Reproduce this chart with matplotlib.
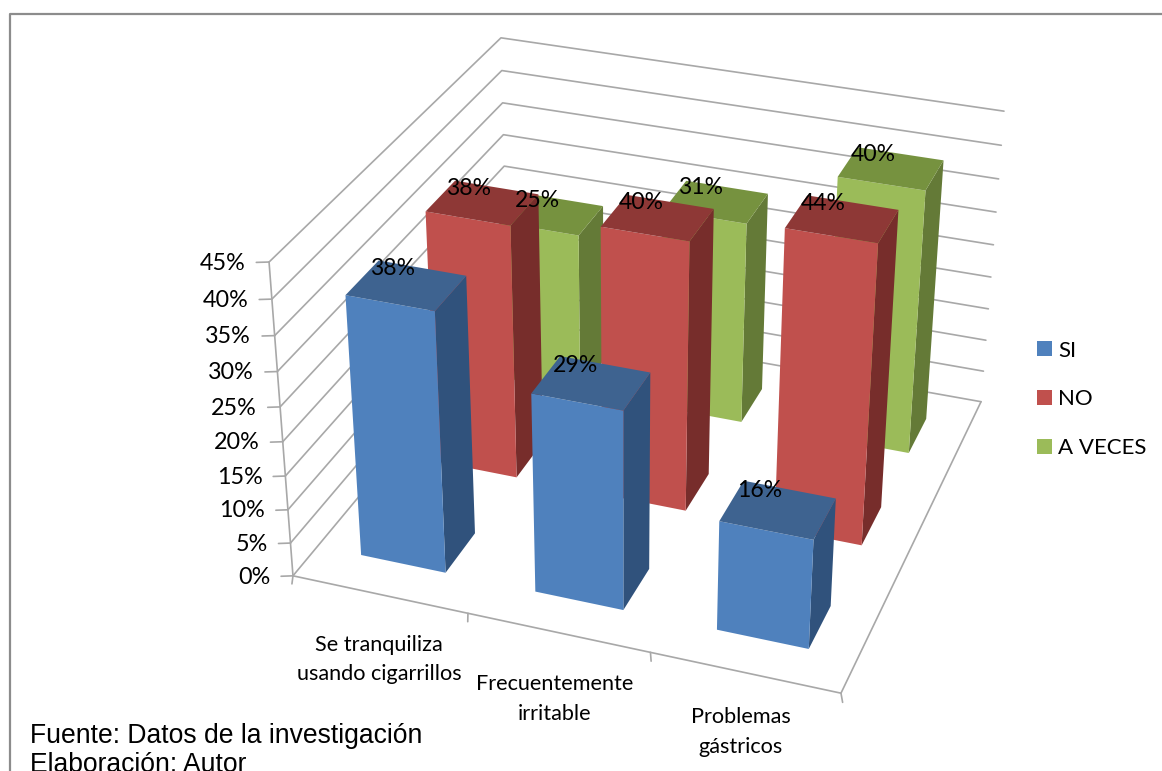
import numpy as np
import matplotlib
matplotlib.use("Agg")
import matplotlib.pyplot as plt
from matplotlib.lines import Line2D
from matplotlib.patches import Patch
from mpl_toolkits.mplot3d import proj3d

# ---- data ----
categories = ["Se tranquiliza\nusando cigarrillos", "Frecuentemente\nirritable", "Problemas\ngástricos"]
series_names = ["SI", "NO", "A VECES"]
si_values = [38, 29, 16]
no_values = [38, 40, 44]
aveces_values = [25, 31, 40]
z_ticks = [0, 5, 10, 15, 20, 25, 30, 35, 40, 45]
footer_lines = ["Fuente: Datos de la investigación", "Elaboración: Autor"]

W, H = 1162, 771
series_values = [si_values, no_values, aveces_values]
front_colors = ["#4F81BD", "#C0504D", "#9BBB59"]
top_colors = ["#3E6390", "#8E3836", "#76923F"]
side_colors = ["#30527C", "#772D2B", "#647A37"]
LATO = "Lato"
ARIAL = "Liberation Sans"
GRID = "#A8A8A8"

# ---- camera: perspective matrix fitted to the box corners of the picture ----
world = np.array([[0, 0, 0], [3, 0, 0], [3, 3, 0], [0, 3, 0],
                  [0, 0, 45], [3, 3, 45], [0, 3, 45]], float)
screen = np.array([[293, 576], [841, 693], [981, 402], [508, 317],
                   [269, 262], [1004, 111], [501, 38]], float)
rows = []
for (X, Y, Z), (u, v) in zip(world, screen):
    v = H - v
    u, v = u / 1000, v / 1000
    rows.append([X, Y, Z, 1, 0, 0, 0, 0, -u * X, -u * Y, -u * Z, -u])
    rows.append([0, 0, 0, 0, X, Y, Z, 1, -v * X, -v * Y, -v * Z, -v])
P = np.linalg.svd(np.array(rows))[2][-1].reshape(3, 4)
P = P / P[2, 3]
M = np.array([P[0] * 1000, P[1] * 1000, [0, 0, 0, -1.0], P[2]])

fig = plt.figure(figsize=(W / 100, H / 100), dpi=100)
ax = fig.add_axes([0, 0, 1, 1], projection="3d")
ax.set_proj_type("ortho")          # switches off the clip to the unit cube
ax.computed_zorder = False
ax.get_proj = lambda: M
ax.apply_aspect = lambda *a, **k: None
ax.set_xticks([])
ax.set_yticks([])
ax.set_zticks([])
ax.set_axis_off()


def label3d(x, y, z, s, **kw):
    px, py, _ = proj3d.proj_transform(x, y, z, M)
    return ax.text2D(px, py, s, transform=ax.transData, color="black", family=LATO, **kw)


# ---- walls and floor ----
line_kw = dict(color=GRID, lw=1.2, zorder=1, solid_capstyle="round")
for z in z_ticks:
    ax.plot([0, 0, 3], [0, 3, 3], [z, z, z], **line_kw)
    ax.plot([-0.057, 0], [-0.025, 0], [z, z], **line_kw)
    label3d(-0.105, -0.05, z, f"{z}%", ha="right", va="center", fontsize=16.8, zorder=20)
ax.plot([0, 0], [0, 0], [0, z_ticks[-1]], **line_kw)
ax.plot([0, 3, 3], [0, 0, 3], [0, 0, 0], **line_kw)
for i in range(4):
    ax.plot([i, i + 0.028], [0, -0.069], [0, 0], **line_kw)

# ---- bars, back row first ----
bar_w = 0.49
bar_d = 0.4
order = 2
for j in [2, 1, 0]:
    for i, val in enumerate(series_values[j]):
        faces = ["none", top_colors[j], front_colors[j], "none", "none", side_colors[j]]
        ax.bar3d(i + (1 - bar_w) / 2, j + (1 - bar_d) / 2, 0, bar_w, bar_d, val,
                 color=faces, shade=False, linewidth=0, zorder=order)
        order += 1

# ---- data labels ----
for j, vals in enumerate(series_values):
    for i, val in enumerate(vals):
        label3d(i + 0.36, j + 0.64, val, f"{val}%", ha="center", va="center",
                fontsize=16.6, zorder=30)

# ---- category labels ----
label_x = [0.735, 1.686, 2.628]
label_y = [-0.52, -0.524, -0.464]
for cat, lx, ly in zip(categories, label_x, label_y):
    label3d(lx, ly, 0, cat, ha="center", va="center", fontsize=15.6,
            linespacing=1.58, zorder=30)

ax.viewLim.intervalx = (0, W)
ax.viewLim.intervaly = (0, H)

# ---- legend ----
handles = [Patch(facecolor=c, edgecolor="none") for c in front_colors]
fig.legend(handles, series_names, loc="upper left",
           bbox_to_anchor=(1030 / W, 1 - 334 / H), frameon=False,
           prop={"family": LATO, "size": 16}, handlelength=0.675, handleheight=0.675,
           handletextpad=0.3, labelspacing=1.29, borderpad=0.3, borderaxespad=0)

# ---- frame and footer ----
frame_kw = dict(color="#8C8C8C", lw=1.6, transform=fig.transFigure)
fig.add_artist(Line2D([9.5 / W, 9.5 / W, 1 + 2 / W],
                      [0, 1 - 14 / H, 1 - 14 / H], **frame_kw))
fig.text(30 / W, 1 - 743 / H, footer_lines[0], family=ARIAL, fontsize=19.1, color="black")
fig.text(30 / W, 1 - 772 / H, footer_lines[1], family=ARIAL, fontsize=19.1, color="black")

fig.savefig("out.png", dpi=100)
